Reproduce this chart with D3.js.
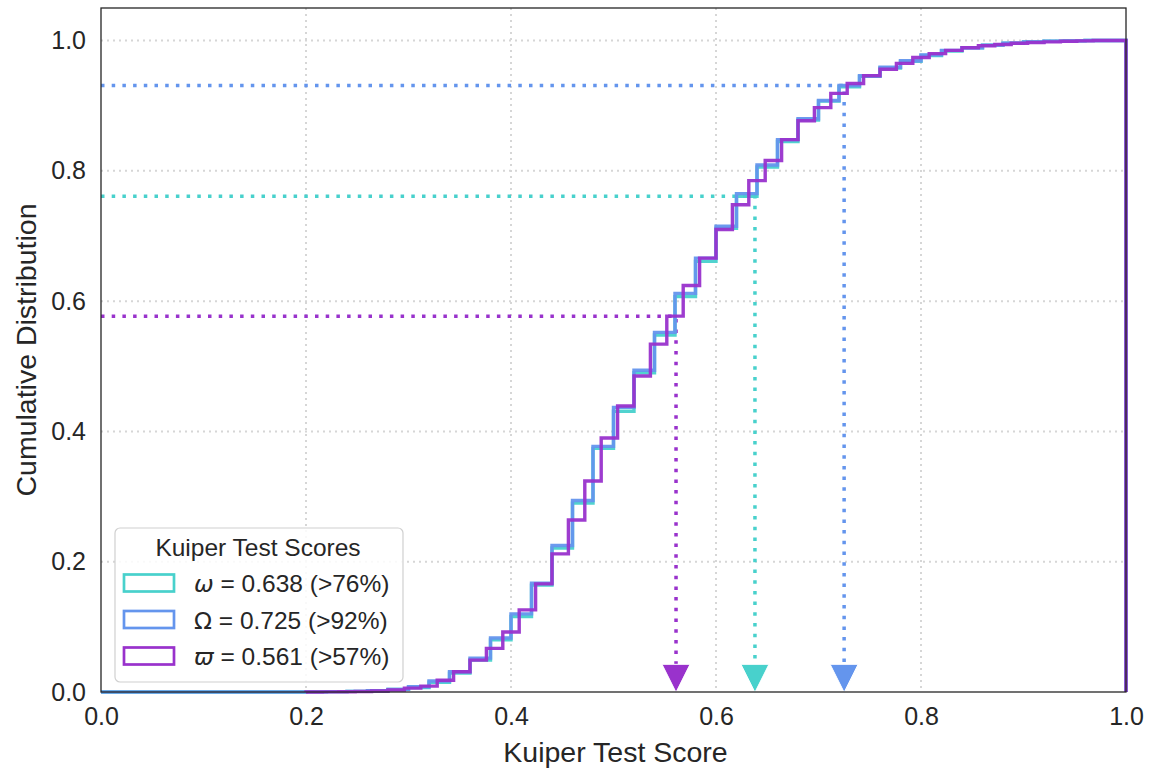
<!DOCTYPE html>
<html>
<head>
<meta charset="utf-8">
<script src="https://cdn.jsdelivr.net/npm/d3@7"></script>
<style>
  html, body { margin: 0; padding: 0; background: #ffffff; }
  svg text { font-family: "Liberation Sans", Arial, "DejaVu Sans", sans-serif; fill: #262626; }
</style>
</head>
<body>
<svg id="chart" width="1156" height="774"></svg>
<script>
// ---------------- data ----------------
const xTicks = [0.0, 0.2, 0.4, 0.6, 0.8, 1.0];
const yTicks = [0.0, 0.2, 0.4, 0.6, 0.8, 1.0];

// omega (cyan) & Omega (blue) share the same bin edges
const edgesOmegaSmall = [0.00,0.02,0.04,0.06,0.08,0.10,0.12,0.14,0.16,0.18,0.20,0.22,0.24,0.26,0.28,0.30,0.32,0.34,0.36,0.38,0.40,0.42,0.44,0.46,0.48,0.50,0.52,0.54,0.56,0.58,0.60,0.62,0.64,0.66,0.68,0.70,0.72,0.74,0.76,0.78,0.80,0.82,0.84,0.86,0.88,0.90,0.92,0.94,0.96,0.98,1.00];
const cdfOmegaSmall = [0,0,0,0,0,0,0,0,0,0,0.0002,0.0005,0.001,0.002,0.004,0.007,0.015,0.029,0.049,0.080,0.116,0.164,0.221,0.290,0.374,0.431,0.490,0.548,0.607,0.661,0.712,0.761,0.806,0.845,0.878,0.907,0.929,0.945,0.958,0.968,0.977,0.984,0.989,0.993,0.996,0.998,0.999,0.9995,1,1];

const edgesOmegaBig = edgesOmegaSmall;
const cdfOmegaBig = [0,0,0,0,0,0,0,0,0,0,0.0002,0.0005,0.001,0.002,0.004,0.008,0.017,0.031,0.052,0.083,0.120,0.167,0.225,0.294,0.377,0.437,0.494,0.552,0.612,0.666,0.715,0.765,0.809,0.848,0.880,0.908,0.931,0.946,0.959,0.969,0.978,0.985,0.989,0.993,0.996,0.998,0.999,0.9995,1,1];

const edgesVarpi = [0.200,0.216,0.232,0.248,0.264,0.280,0.296,0.312,0.328,0.344,0.360,0.376,0.392,0.408,0.424,0.440,0.456,0.472,0.488,0.504,0.520,0.536,0.552,0.568,0.584,0.600,0.616,0.632,0.648,0.664,0.680,0.696,0.712,0.728,0.744,0.760,0.776,0.792,0.808,0.824,0.840,0.856,0.872,0.888,0.904,0.920,0.936,0.952,0.968,0.984,1.000];
const cdfVarpi = [0.0001,0.0002,0.0004,0.0008,0.0015,0.003,0.006,0.009,0.018,0.031,0.049,0.067,0.092,0.126,0.166,0.212,0.264,0.324,0.390,0.439,0.485,0.534,0.577,0.624,0.666,0.710,0.748,0.785,0.816,0.848,0.877,0.897,0.919,0.934,0.946,0.956,0.965,0.974,0.980,0.985,0.989,0.992,0.994,0.996,0.997,0.998,0.999,0.9995,1,1];

const seriesNames = ["omega", "Omega", "varpi"];
const seriesSymbols = ["ω", "Ω", "ϖ"];
const seriesSymbolItalic = [true, false, true];
const seriesScores = [0.638, 0.725, 0.561];
const seriesLevels = [0.761, 0.931, 0.577];
const seriesPercents = [76, 92, 57];
const seriesColors = ["#48D1CC", "#6495ED", "#9932CC"];
const markerY = 0.021;

const legendTitle = "Kuiper Test Scores";
const xLabel = "Kuiper Test Score";
const yLabel = "Cumulative Distribution";

// ---------------- layout ----------------
const svg = d3.select("#chart");
const margin = { left: 101, top: 8, right: 30, bottom: 82 };
const W = 1156, H = 774;
const iw = W - margin.left - margin.right;   // 1025
const ih = H - margin.top - margin.bottom;   // 684

const x = d3.scaleLinear().domain([0, 1]).range([0, iw]);
const y = d3.scaleLinear().domain([0, 1.05]).range([ih, 0]);

const g = svg.append("g").attr("transform", `translate(${margin.left},${margin.top})`);

// grid
g.append("g").selectAll("line").data(xTicks.filter(d => d > 0 && d < 1)).join("line")
  .attr("x1", d => x(d)).attr("x2", d => x(d)).attr("y1", 0).attr("y2", ih)
  .attr("stroke", "#d6d6d6").attr("stroke-width", 2).attr("stroke-dasharray", "2,4");
g.append("g").selectAll("line").data(yTicks.filter(d => d > 0)).join("line")
  .attr("y1", d => y(d)).attr("y2", d => y(d)).attr("x1", 0).attr("x2", iw)
  .attr("stroke", "#d6d6d6").attr("stroke-width", 2).attr("stroke-dasharray", "2,4");

// dotted guide lines
seriesNames.forEach((n, i) => {
  const c = seriesColors[i];
  g.append("path")
    .attr("d", `M${x(0)},${y(seriesLevels[i])}H${x(seriesScores[i])}V${y(markerY) - 14}`)
    .attr("fill", "none").attr("stroke", c).attr("stroke-width", 3.5)
    .attr("stroke-dasharray", "3.5,7.2");
});

// step CDFs (cumulative step histograms)
const edgesList = [edgesOmegaSmall, edgesOmegaBig, edgesVarpi];
const cdfList = [cdfOmegaSmall, cdfOmegaBig, cdfVarpi];
const lineGen = d3.line().x(d => x(d[0])).y(d => y(d[1]));
seriesNames.forEach((n, i) => {
  const e = edgesList[i], v = cdfList[i];
  const path = [[e[0], 0]];
  for (let k = 0; k < v.length; k++) {
    path.push([e[k], v[k]]);
    path.push([e[k + 1], v[k]]);
  }
  path.push([e[e.length - 1], 0]);
  g.append("path")
    .attr("d", lineGen(path))
    .attr("fill", "none").attr("stroke", seriesColors[i])
    .attr("stroke-width", 3.4).attr("stroke-opacity", 0.95)
    .attr("stroke-linejoin", "miter");
});

// triangle markers
seriesNames.forEach((n, i) => {
  g.append("path")
    .attr("d", `M${-14},${-14}L${14},${-14}L0,${14}Z`)
    .attr("transform", `translate(${x(seriesScores[i])},${y(markerY)})`)
    .attr("fill", seriesColors[i]).attr("stroke", "#ffffff").attr("stroke-width", 1);
});

// frame
g.append("rect").attr("x", 0).attr("y", 0).attr("width", iw).attr("height", ih)
  .attr("fill", "none").attr("stroke", "#262626").attr("stroke-width", 1.3);

// axes tick labels
const fmt = d3.format(".1f");
const xAxis = d3.axisBottom(x).tickValues(xTicks).tickFormat(fmt).tickSize(0).tickPadding(15);
const xa = g.append("g").attr("transform", `translate(0,${ih})`).call(xAxis);
xa.select(".domain").remove();
xa.selectAll("text").attr("font-size", 25).attr("fill", "#262626")
  .attr("font-family", "Liberation Sans, Arial, sans-serif");

const yAxis = d3.axisLeft(y).tickValues(yTicks).tickFormat(fmt).tickSize(0).tickPadding(15);
const ya = g.append("g").call(yAxis);
ya.select(".domain").remove();
ya.selectAll("text").attr("font-size", 25).attr("fill", "#262626")
  .attr("font-family", "Liberation Sans, Arial, sans-serif");

// axis titles
svg.append("text").attr("x", margin.left + iw / 2 + 2).attr("y", 762)
  .attr("text-anchor", "middle").attr("font-size", 28.5).text(xLabel);
svg.append("text").attr("transform", `translate(36,${margin.top + y(0.525)}) rotate(-90)`)
  .attr("text-anchor", "middle").attr("font-size", 28.5).text(yLabel);

// legend
const lg = svg.append("g");
lg.append("rect").attr("x", 115).attr("y", 528).attr("width", 288).attr("height", 154)
  .attr("rx", 5).attr("fill", "#ffffff").attr("fill-opacity", 0.85)
  .attr("stroke", "#d0d0d0").attr("stroke-width", 1.2);
lg.append("text").attr("x", 258).attr("y", 556).attr("text-anchor", "middle")
  .attr("font-size", 24.5).text(legendTitle);
seriesNames.forEach((n, i) => {
  const cy = 583 + i * 36.5;
  lg.append("rect").attr("x", 124).attr("y", cy - 8.5).attr("width", 50).attr("height", 17)
    .attr("fill", "#ffffff").attr("stroke", seriesColors[i]).attr("stroke-width", 2.7);
  const t = lg.append("text").attr("x", 194).attr("y", cy + 9).attr("font-size", 24.5);
  t.append("tspan").attr("font-family", "DejaVu Sans, sans-serif")
    .attr("font-style", seriesSymbolItalic[i] ? "italic" : "normal")
    .attr("font-size", 23.5).text(seriesSymbols[i]);
  t.append("tspan").text(` = ${seriesScores[i].toFixed(3)} (>${seriesPercents[i]}%)`);
});
</script>
</body>
</html>
